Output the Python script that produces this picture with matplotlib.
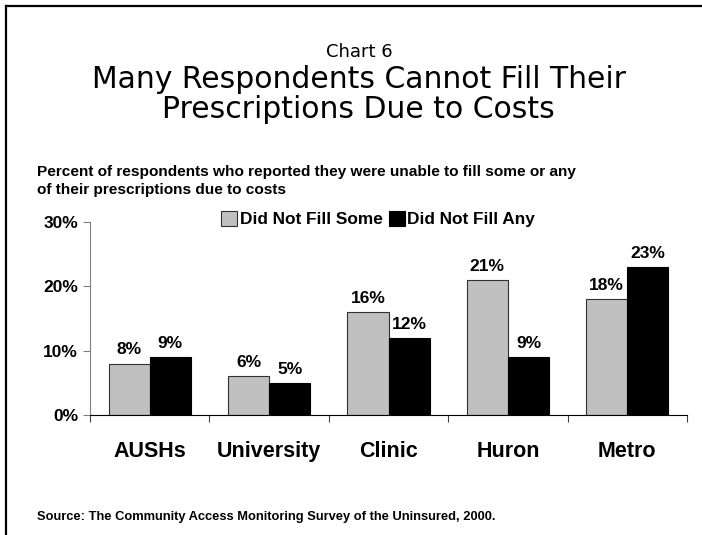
import matplotlib.pyplot as plt
import numpy as np

# data
categories = ['AUSHs', 'University', 'Clinic', 'Huron', 'Metro']
fill_some = [8, 6, 16, 21, 18]
fill_any = [9, 5, 12, 9, 23]
series_names = ['Did Not Fill Some', 'Did Not Fill Any']
y_ticks = [0, 10, 20, 30]

W, H = 702, 535
fig = plt.figure(figsize=(W / 100, H / 100), dpi=100)
fig.patch.set_facecolor('white')


def fy(px):
    # pixel row from the top -> figure fraction
    return 1 - px / H


# frame lines at top and left
fig.add_artist(plt.Line2D([5.5 / W, 5.5 / W], [0, fy(5.5)], color='black', lw=1.6))
fig.add_artist(plt.Line2D([5.5 / W, 1], [fy(5.5), fy(5.5)], color='black', lw=1.6))

# titles
fig.text(359 / W, fy(57), 'Chart 6', ha='center', va='baseline',
         fontsize=13, family='DejaVu Sans')
fig.text(358.5 / W, fy(88.5), 'Many Respondents Cannot Fill Their', ha='center',
         va='baseline', fontsize=21.5, family='DejaVu Sans')
fig.text(358.5 / W, fy(118.5), 'Prescriptions Due to Costs', ha='center',
         va='baseline', fontsize=21.5, family='DejaVu Sans')

bold = dict(fontweight='bold', family='Liberation Sans')
fig.text(37 / W, fy(176), 'Percent of respondents who reported they were unable to fill some or any',
         ha='left', va='baseline', fontsize=11.1, **bold)
fig.text(37 / W, fy(194), 'of their prescriptions due to costs',
         ha='left', va='baseline', fontsize=11.1, **bold)
fig.text(37 / W, fy(517),
         'Source: The Community Access Monitoring Survey of the Uninsured, 2000.',
         ha='left', va='center', fontsize=9.3, **bold)

ax = fig.add_axes([90 / W, fy(415), 597 / W, 193 / H])
x = np.arange(len(categories))
bw = 0.345
b1 = ax.bar(x - bw / 2, fill_some, bw, color='#C0C0C0', edgecolor='#303030', lw=0.8,
            label=series_names[0])
b2 = ax.bar(x + bw / 2, fill_any, bw, color='black', edgecolor='black', lw=0.8,
            label=series_names[1])

for bars in (b1, b2):
    for rect in bars:
        h = rect.get_height()
        ax.annotate('{}%'.format(int(h)), (rect.get_x() + rect.get_width() / 2, h),
                    xytext=(0, 4.5), textcoords='offset points', ha='center', va='bottom',
                    fontsize=12.5, **bold)

ax.set_xlim(-0.5, len(categories) - 0.5)
ax.set_ylim(0, 30)
ax.set_yticks(y_ticks)
ax.set_yticklabels(['{}%'.format(t) for t in y_ticks], fontsize=12.5, **bold)
ax.set_xticks(np.arange(len(categories) + 1) - 0.5)
ax.set_xticklabels([])
ax.set_xticks(x, minor=True)
ax.set_xticklabels(categories, minor=True, fontsize=15.5, **bold)
ax.tick_params(axis='x', which='minor', length=0, pad=19)
ax.tick_params(axis='x', which='major', length=5, width=0.8, direction='out', color='#404040')
ax.tick_params(axis='y', length=5, width=0.8, direction='out', pad=3.5, color='#808080')
for s in ('top', 'right'):
    ax.spines[s].set_visible(False)
ax.spines['left'].set_color('#808080')
ax.spines['bottom'].set_color('black')

leg = ax.legend(ncol=2, loc='center', bbox_to_anchor=(378 / W, fy(219)),
                bbox_transform=fig.transFigure, frameon=False, handlelength=0.95,
                handleheight=0.95, handletextpad=0.15, columnspacing=0.35,
                prop={'family': 'Liberation Sans', 'weight': 'bold', 'size': 12.4})

fig.savefig('out.png', dpi=100)
